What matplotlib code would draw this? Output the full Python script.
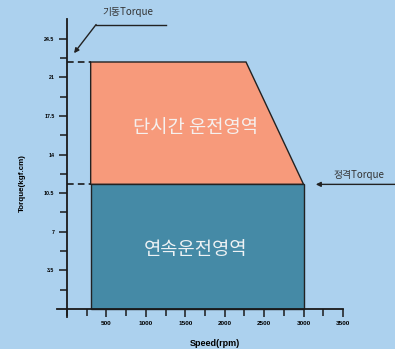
import matplotlib.pyplot as plt
from matplotlib.patches import Polygon
from matplotlib.ticker import MultipleLocator, FixedLocator

plt.rcParams['font.family'] = ['Noto Sans CJK KR', 'DejaVu Sans']

# 운전 영역 데이터
speed_min = 300
speed_corner = 2270
speed_max = 3000
torque_start = 22.4   # 기동 Torque
torque_rated = 11.3   # 정격 Torque

x_ticks = [500, 1000, 1500, 2000, 2500, 3000, 3500]
y_ticks = [3.5, 7, 10.5, 14, 17.5, 21, 24.5]

bg = '#ACD1EE'
c_short = '#F79A7B'
c_cont = '#458AA6'

W, H = 395, 349
fig = plt.figure(figsize=(W / 100, H / 100), dpi=100, facecolor=bg)
ax = fig.add_axes([57 / W, (H - 317) / H, (343 - 57) / W, (317 - 19) / H])
ax.patch.set_visible(False)
ax.set_xlim(-127, 3500)
ax.set_ylim(-0.73, 26.3)

# 축 스타일
for s in ['top', 'right']:
    ax.spines[s].set_visible(False)
ax.spines['left'].set_position(('data', 0))
ax.spines['bottom'].set_position(('data', 0))
for s in ['left', 'bottom']:
    ax.spines[s].set_linewidth(1.3)
    ax.spines[s].set_color('#1a1a1a')

ax.xaxis.set_major_locator(FixedLocator(x_ticks))
ax.xaxis.set_minor_locator(MultipleLocator(250))
ax.yaxis.set_major_locator(FixedLocator(y_ticks))
ax.yaxis.set_minor_locator(FixedLocator([1.75 + 3.5 * i for i in range(7)]))
ax.tick_params(axis='both', which='both', direction='out', color='#1a1a1a', width=1.1)
ax.tick_params(axis='both', which='major', length=6, pad=3)
ax.tick_params(axis='both', which='minor', length=5)
ax.set_xticklabels([str(v) for v in x_ticks], fontsize=4.6, fontweight='bold',
                   family='Liberation Sans')
ax.set_yticklabels([f'{v:g}' for v in y_ticks], fontsize=3.8, fontweight='bold',
                   family='Liberation Sans')

# 단시간 운전영역
short_pts = [(speed_min, torque_rated), (speed_min, torque_start),
             (speed_corner, torque_start), (speed_max, torque_rated)]
ax.add_patch(Polygon(short_pts, closed=True, facecolor=c_short,
                     edgecolor='#222222', linewidth=1.0, zorder=2))
# 연속운전영역
cont_pts = [(speed_min, 0), (speed_min, torque_rated),
            (speed_max, torque_rated), (speed_max, 0)]
ax.add_patch(Polygon(cont_pts, closed=True, facecolor=c_cont,
                     edgecolor='#222222', linewidth=1.0, zorder=2))

# 점선
for t in [torque_start, torque_rated]:
    ax.plot([0, speed_min], [t, t], color='#1a1a1a', linewidth=1.2,
            linestyle=(0, (4, 2.5)), zorder=3, clip_on=False)

ax.text(1628, 16.5, '단시간 운전영역', fontsize=13.5, fontweight='light',
        color='#F5F0EE', ha='center', va='center', zorder=4)
ax.text(1628, 5.4, '연속운전영역', fontsize=13.5, fontweight='light',
        color='#EEF2F4', ha='center', va='center', zorder=4)

# 기동Torque 지시선
ax.plot([369, 1259], [25.8, 25.8], color='#222222', linewidth=1.0, clip_on=False)
ax.annotate('', xy=(89, 23.2), xytext=(369, 25.8), annotation_clip=False,
            arrowprops=dict(arrowstyle='-|>', color='#222222', lw=1.0,
                            mutation_scale=7, shrinkA=0, shrinkB=0))
ax.text(776, 26.5, '기동Torque', fontsize=7, color='#333333',
        ha='center', va='bottom', clip_on=False)

# 정격Torque 지시선
ax.annotate('', xy=(3155, torque_rated), xytext=(4200, torque_rated),
            annotation_clip=False,
            arrowprops=dict(arrowstyle='-|>', color='#222222', lw=1.0,
                            mutation_scale=7, shrinkA=0, shrinkB=0))
ax.text(3702, 12.15, '정격Torque', fontsize=7, color='#333333',
        ha='center', va='center', clip_on=False)

fig.text(22 / W, 1 - 183 / H, 'Torque(kgf.cm)', rotation=90, fontsize=5.8,
         fontweight='bold', family='Liberation Sans', ha='center', va='center')
fig.text(215 / W, 1 - 343 / H, 'Speed(rpm)', fontsize=6.5,
         fontweight='bold', family='Liberation Sans', ha='center', va='center')

fig.savefig('out.png', dpi=100, facecolor=bg)
